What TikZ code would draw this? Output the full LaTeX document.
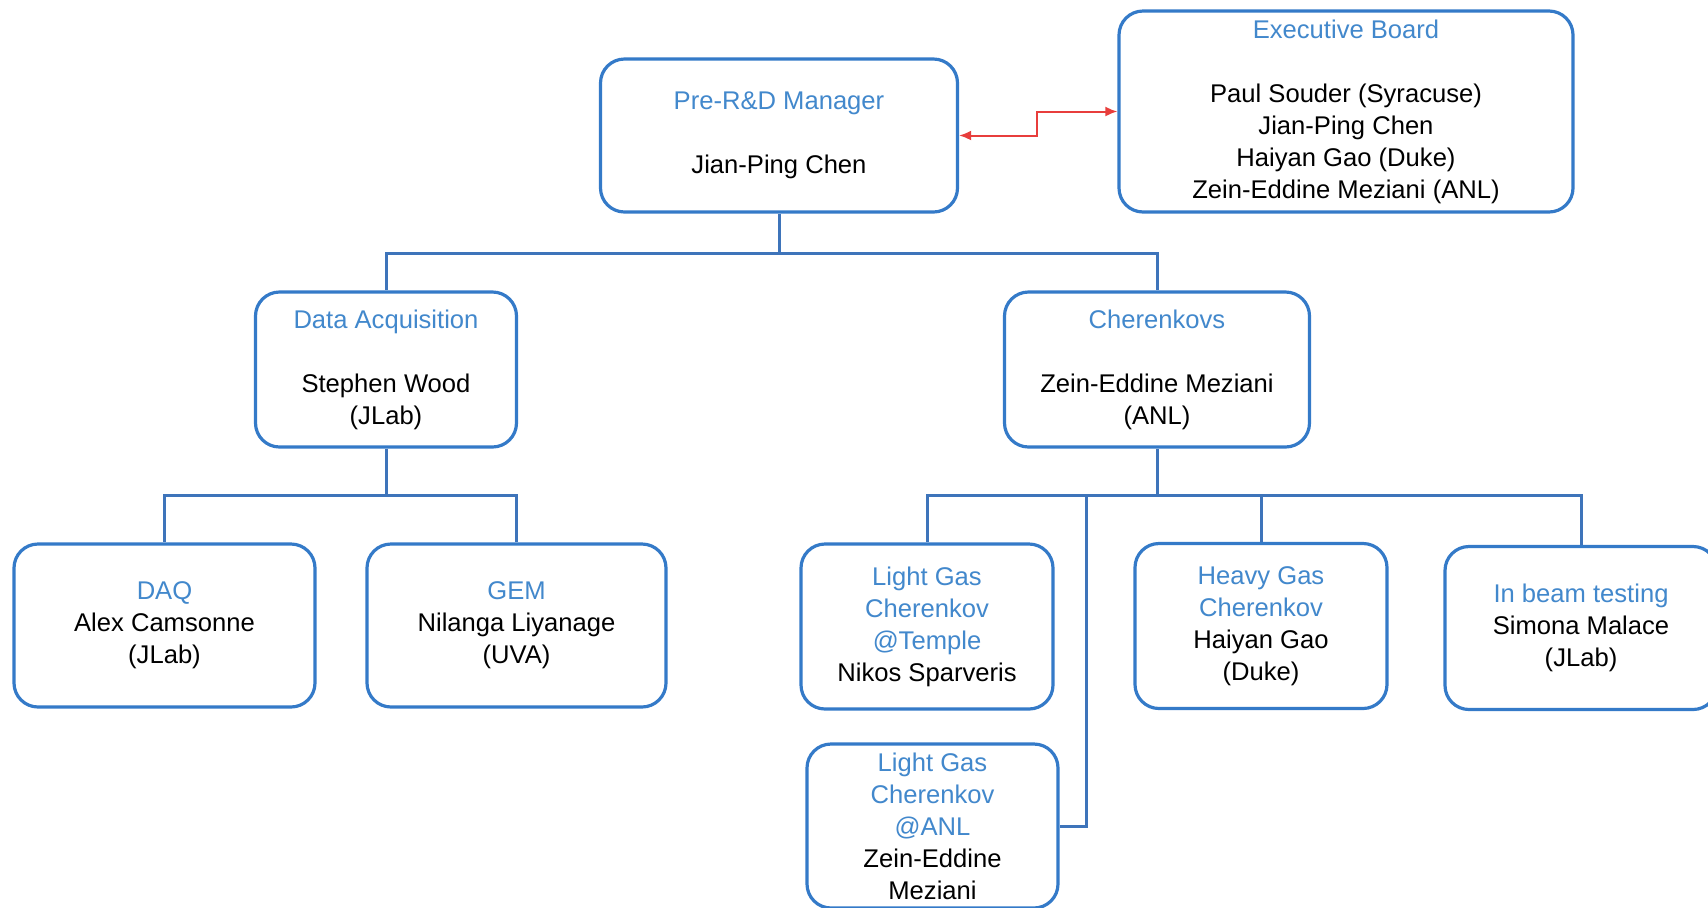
\documentclass[tikz,border=0pt]{standalone}
\usepackage{fontspec}
\setmainfont{Liberation Sans}
\usetikzlibrary{arrows.meta}
\definecolor{boxblue}{RGB}{52,122,200}
\definecolor{lineblue}{RGB}{62,116,186}
\definecolor{titleblue}{RGB}{66,136,204}
\definecolor{linkred}{RGB}{232,62,60}
\newcommand{\hdr}[1]{\textcolor{titleblue}{#1}}
\tikzset{
  unit/.style={draw=boxblue, line width=1.6pt, rounded corners=12pt, fill=white,
    align=center, inner sep=0pt, font=\fontsize{12.8}{16}\selectfont},
  link/.style={draw=lineblue, line width=1.5pt},
  board link/.style={draw=linkred, line width=1pt, {Latex[length=6pt,width=5pt]}-{Latex[length=6pt,width=5pt]}}
}
\begin{document}
\begin{tikzpicture}[x=0.5pt,y=-0.5pt]
      \useasboundingbox (0,0) rectangle (1708,907);
      \node[unit, minimum width=178.5pt, minimum height=76.5pt] (mgr) at (779,135.5)
        {\hdr{Pre-R\&D Manager}\\[16pt]Jian-Ping Chen};
      \node[unit, minimum width=227pt, minimum height=100.5pt] (board) at (1346,111.5)
        {\hdr{Executive Board}\\[16pt]Paul Souder (Syracuse)\\Jian-Ping Chen\\Haiyan Gao (Duke)\\Zein-Eddine Meziani (ANL)};
      \node[unit, minimum width=130.5pt, minimum height=77.5pt] (daqlead) at (386,369.5)
        {\hdr{Data Acquisition}\\[16pt]Stephen Wood\\(JLab)};
      \node[unit, minimum width=152.5pt, minimum height=77.5pt] (cher) at (1157,369.5)
        {\hdr{Cherenkovs}\\[16pt]Zein-Eddine Meziani\\(ANL)};
      \node[unit, minimum width=150.5pt, minimum height=81.5pt] (daq) at (164.5,625.5)
        {\hdr{DAQ}\\Alex Camsonne\\(JLab)};
      \node[unit, minimum width=149.5pt, minimum height=81.5pt] (gem) at (516.5,625.5)
        {\hdr{GEM}\\Nilanga Liyanage\\(UVA)};
      \node[unit, minimum width=126pt, minimum height=82.5pt] (lgtemple) at (927,626.5)
        {\hdr{Light Gas}\\\hdr{Cherenkov}\\\hdr{@Temple}\\Nikos Sparveris};
      \node[unit, minimum width=126pt, minimum height=82.5pt] (hgas) at (1261,626)
        {\hdr{Heavy Gas}\\\hdr{Cherenkov}\\Haiyan Gao\\(Duke)};
      \node[unit, minimum width=136pt, minimum height=81.5pt] (beam) at (1581,628)
        {\hdr{In beam testing}\\Simona Malace\\(JLab)};
      \node[unit, minimum width=125.5pt, minimum height=82pt] (lganl) at (932.5,826)
        {\hdr{Light Gas}\\\hdr{Cherenkov}\\\hdr{@ANL}\\Zein-Eddine\\Meziani};
      \coordinate (topbar) at (779,253);
      \coordinate (daqbar) at (386,495);
      \coordinate (cherbar) at (1157,495);
      \coordinate (anlturn) at (1086,826);
      \coordinate (kink) at (1037,135.5);
      \begin{scope}[link]
        \draw (mgr) -- (topbar) -| (daqlead);
        \draw (topbar) -| (cher);
        \draw (daqlead) -- (daqbar) -| (daq);
        \draw (daqbar) -| (gem);
        \draw (cher) -- (cherbar) -| (lgtemple);
        \draw (cherbar) -| (hgas);
        \draw (cherbar) -| (beam);
        \draw (cherbar) -| (anlturn) -- (lganl);
      \end{scope}
      \draw[board link] (mgr.east) -- (kink) |- (board.west);
    \end{tikzpicture}
\end{document}
